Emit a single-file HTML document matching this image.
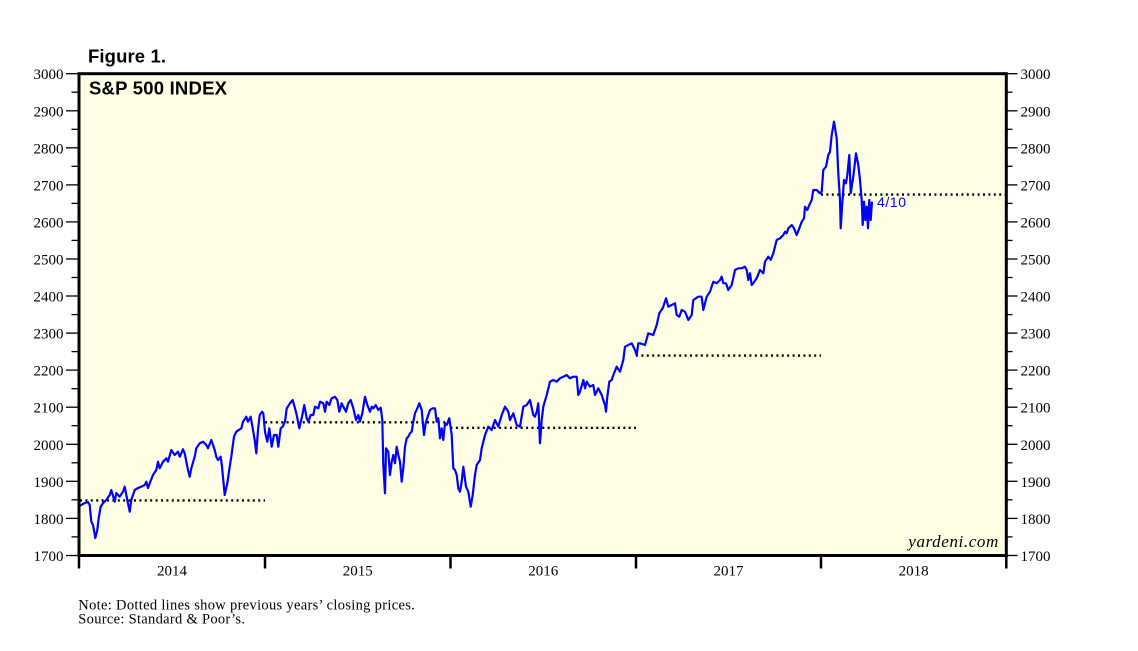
<!DOCTYPE html>
<html>
<head>
<meta charset="utf-8">
<style>
html,body{margin:0;padding:0;background:#fff;}
svg{display:block;}
</style>
</head>
<body>
<svg width="1138" height="651" viewBox="0 0 1138 651" xmlns="http://www.w3.org/2000/svg">
<rect x="0" y="0" width="1138" height="651" fill="#ffffff"/>
<rect x="79" y="73.7" width="927.3" height="481.8" fill="#FFFFE6"/>

<!-- dotted previous-year closes -->
<g stroke="#000" stroke-width="2.4" stroke-dasharray="2 3.4" fill="none">
<line x1="80" y1="500.4" x2="265" y2="500.4"/>
<line x1="265" y1="422.3" x2="450.5" y2="422.3"/>
<line x1="450.5" y1="427.8" x2="636" y2="427.8"/>
<line x1="636" y1="355.6" x2="821" y2="355.6"/>
<line x1="821" y1="194.6" x2="1005" y2="194.6"/>
</g>

<polyline fill="none" stroke="#0000FF" stroke-width="2.2" stroke-linejoin="round" points="
78,506.7 81.3,505 84.7,503 88,502 89.7,505 91.3,521.7 93,525 95.3,538 97.3,530 98.7,518 100.7,506.7 103,503 106.3,500 109.7,495 111.3,490 114.7,501.7 116.3,493 119.7,496.7 123,491.7 124.7,486.7 127.3,500 129.7,511.7 131.3,500 134.7,490 138,488 141.3,486.7 144.7,485 146.3,481.7 148,488 149.7,483.3 153,475 156.3,470 158,461.7 159.7,468.3 163,461.7 166.3,458.3 168,461.7 171.3,450 174.7,455 178,451.7 179.7,456.7 183,449.3 184.7,453.3 188,470 189.7,476.7 191.3,468.3 194.7,456.7 196.3,448.3 199.7,443.3 203,441.7 206.3,445 208,448.3 211.3,440 214.7,450 216.3,456.7 218,460 220.7,456.7 222,466.7 224.7,495 227.3,483.3 229.7,466.7 231.3,456.7 234,436.7 236.3,431.7 241.3,428.3 243,421.7 246.3,416.7 248,421.7 250.7,416.7 253,430 254.7,440 256.3,453.3 258,430 259.7,415
262,411.7 263.3,413.3 265,431.7 267.3,441.7 269.3,428.3 271.7,446.7 274,435 276.7,435 278.3,446.7 280.7,428.3 282.7,426.7 285,421.7 286.7,408.3 290,403.3 292.7,400 295,408.3 296.7,415 299.3,428.3 301.7,418.3 304.3,405 306.7,418.3 308.3,421.7 310.7,415 313.3,415 315,406.7 318.3,408.3 320,401.7 323.3,403.3 325,411.7 326.7,401.7 329.3,405 331.7,398.3 335,396.7 337.3,400 339.3,411.7 341.7,403.3 343.3,406.7 346,411.7 348.3,403.3 350.7,400 353.3,408.3 356,420 358.3,415 360,421.7 362.3,413.3 365,396.7 367.3,405 370,411.7 371.7,406.7 373.3,408.3 375.7,405 378.3,410 380.7,407.7 382.3,420 383.3,465 385,493.3 386,448.3 388.3,451.7 390,475 391.7,461.7 393.3,455 395,463.3 396.7,446.7 398.3,455 400,461.7 401.7,481.7 403.3,468.3 405,446.7 406.7,438.3 408.3,436.7 410,433.3 411.7,431.7 413.3,421.7 415,413.3 417.3,408.3 419.3,403.3 421.7,410 424,435 425.7,423.3 427.7,416.7 430,410 432.7,408.3 435,408.3 436.7,421.7 438.3,418.3 440,438.3 441.7,428.3 443.3,440 445,423.3 446.7,425 449.3,418.3 451.7,435 453.3,468.3 455,470 456.7,475 458.3,488.3 460,491.7 461.7,481.7 463.3,466.7 466,486.7 468.3,491.7 470.7,506.7 472.7,495 475,475 476.7,465 480,460
481.7,448.3 485,435 488.3,426.7 491.7,430 495,420 498.3,426.7 501.7,415 505,406.7 508.3,411.7 510,420 513.3,413.3 516.7,425 520,426.7 523.3,406.7 526.7,405 530,400 533.3,415 535,416.7 536.7,411.7 538.3,403.3 540,443.3 541.7,420 543.3,406.7 546.7,395 550,381.7 553.3,380 556.7,381.7 560,378.3 563.3,376.7 566.7,375 570,378.3 573.3,376.7 576.7,376.7 578.3,395 580,391.7 583.3,380 585,388.3 586.7,381.7 590,386.7 593.3,385 595,395 598.3,388.3 601.7,395 603.3,400 605,405 606,411.7 607.3,396.7 609.3,381.7 611.7,380 613.3,375 616.7,366.7 620,371.7 623.3,360 625,346.7 628.3,345 631.7,343.3 635,350 636.7,355 638.3,343.3
640,343.3 645,345 648.3,333.3 653.3,335 656.7,325 659.3,313.3 662.7,308.3 666,298.3 668.3,306.7 671.7,305 675,303.3 676.7,315 679.3,316.7 681.7,310 685,311.7 688.3,320 691.7,315 693.3,300 698.3,296.7 701.7,296.7 703.3,310 706.7,296.7 710,291.7 713.3,281.7 716.7,283.3 720,280 721.7,276.7 723.3,283.3 726,283.3 728.3,290 731.7,285 735,270 738.3,268.3 741.7,268.3 745,266.7 746.7,270 748.3,280 750,273.3 751.7,285 753.3,283.3 756.7,278.3 760,270 763.3,273.3 765,261.7 768.3,256.7 770.7,260 773.3,253.3 776.7,240 780,238.3 783.3,235 785,231.7 786.7,233.3 788.3,228.3 791.7,225 794,228.3 796.7,235 799.3,228.3 801.7,221.7 804,218.3 805,206.7 807.3,210 809.3,205 811.7,200 813.3,190 816.7,190 820,193.3 821.7,191.7 823.3,170 826,166.7 828.3,155 830,151.7 831.7,135 834,121.7 836.7,138.3 838.3,173.3 840,200 840.7,228.3 842.3,203.3 844,180 846,183.3 847.3,175 849.3,155 850.7,193.3 853.3,176.7 856,153.3 858.3,165 860,180 861.7,200 862.7,225 864,201.7 865.3,220 866.7,206.7 868,228.3 869.3,200 870.7,220 872,201.7"/>

<text x="877" y="207" font-family="Liberation Sans, sans-serif" font-size="14" fill="#0000FF" textLength="29">4/10</text>

<!-- frame -->
<rect x="79" y="73.7" width="927.3" height="481.8" fill="none" stroke="#000" stroke-width="3"/>

<!-- y ticks -->
<g stroke="#000" stroke-width="1.3">
<line x1="66" y1="73.7" x2="79" y2="73.7"/><line x1="71.5" y1="92.2" x2="79" y2="92.2"/>
<line x1="66" y1="110.8" x2="79" y2="110.8"/><line x1="71.5" y1="129.3" x2="79" y2="129.3"/>
<line x1="66" y1="147.8" x2="79" y2="147.8"/><line x1="71.5" y1="166.3" x2="79" y2="166.3"/>
<line x1="66" y1="184.9" x2="79" y2="184.9"/><line x1="71.5" y1="203.4" x2="79" y2="203.4"/>
<line x1="66" y1="221.9" x2="79" y2="221.9"/><line x1="71.5" y1="240.4" x2="79" y2="240.4"/>
<line x1="66" y1="259.0" x2="79" y2="259.0"/><line x1="71.5" y1="277.5" x2="79" y2="277.5"/>
<line x1="66" y1="296.0" x2="79" y2="296.0"/><line x1="71.5" y1="314.6" x2="79" y2="314.6"/>
<line x1="66" y1="333.1" x2="79" y2="333.1"/><line x1="71.5" y1="351.6" x2="79" y2="351.6"/>
<line x1="66" y1="370.1" x2="79" y2="370.1"/><line x1="71.5" y1="388.7" x2="79" y2="388.7"/>
<line x1="66" y1="407.2" x2="79" y2="407.2"/><line x1="71.5" y1="425.7" x2="79" y2="425.7"/>
<line x1="66" y1="444.3" x2="79" y2="444.3"/><line x1="71.5" y1="462.8" x2="79" y2="462.8"/>
<line x1="66" y1="481.3" x2="79" y2="481.3"/><line x1="71.5" y1="499.8" x2="79" y2="499.8"/>
<line x1="66" y1="518.4" x2="79" y2="518.4"/><line x1="71.5" y1="536.9" x2="79" y2="536.9"/>
<line x1="66" y1="555.5" x2="79" y2="555.5"/>

<line x1="1006" y1="73.7" x2="1017.5" y2="73.7"/><line x1="1006" y1="92.2" x2="1012.5" y2="92.2"/>
<line x1="1006" y1="110.8" x2="1017.5" y2="110.8"/><line x1="1006" y1="129.3" x2="1012.5" y2="129.3"/>
<line x1="1006" y1="147.8" x2="1017.5" y2="147.8"/><line x1="1006" y1="166.3" x2="1012.5" y2="166.3"/>
<line x1="1006" y1="184.9" x2="1017.5" y2="184.9"/><line x1="1006" y1="203.4" x2="1012.5" y2="203.4"/>
<line x1="1006" y1="221.9" x2="1017.5" y2="221.9"/><line x1="1006" y1="240.4" x2="1012.5" y2="240.4"/>
<line x1="1006" y1="259.0" x2="1017.5" y2="259.0"/><line x1="1006" y1="277.5" x2="1012.5" y2="277.5"/>
<line x1="1006" y1="296.0" x2="1017.5" y2="296.0"/><line x1="1006" y1="314.6" x2="1012.5" y2="314.6"/>
<line x1="1006" y1="333.1" x2="1017.5" y2="333.1"/><line x1="1006" y1="351.6" x2="1012.5" y2="351.6"/>
<line x1="1006" y1="370.1" x2="1017.5" y2="370.1"/><line x1="1006" y1="388.7" x2="1012.5" y2="388.7"/>
<line x1="1006" y1="407.2" x2="1017.5" y2="407.2"/><line x1="1006" y1="425.7" x2="1012.5" y2="425.7"/>
<line x1="1006" y1="444.3" x2="1017.5" y2="444.3"/><line x1="1006" y1="462.8" x2="1012.5" y2="462.8"/>
<line x1="1006" y1="481.3" x2="1017.5" y2="481.3"/><line x1="1006" y1="499.8" x2="1012.5" y2="499.8"/>
<line x1="1006" y1="518.4" x2="1017.5" y2="518.4"/><line x1="1006" y1="536.9" x2="1012.5" y2="536.9"/>
<line x1="1006" y1="555.5" x2="1017.5" y2="555.5"/>
</g>

<!-- x year ticks -->
<g stroke="#000" stroke-width="2.5">
<line x1="79" y1="555" x2="79" y2="568.5"/>
<line x1="265" y1="555" x2="265" y2="568.5"/>
<line x1="450.5" y1="555" x2="450.5" y2="568.5"/>
<line x1="636" y1="555" x2="636" y2="568.5"/>
<line x1="821" y1="555" x2="821" y2="568.5"/>
<line x1="1006.3" y1="555" x2="1006.3" y2="568.5"/>
</g>

<g font-family="Liberation Serif, serif" font-size="15" fill="#000">
<g text-anchor="end">
<text x="63.5" y="79.2">3000</text>
<text x="63.5" y="116.3">2900</text>
<text x="63.5" y="153.3">2800</text>
<text x="63.5" y="190.4">2700</text>
<text x="63.5" y="227.4">2600</text>
<text x="63.5" y="264.5">2500</text>
<text x="63.5" y="301.5">2400</text>
<text x="63.5" y="338.6">2300</text>
<text x="63.5" y="375.6">2200</text>
<text x="63.5" y="412.7">2100</text>
<text x="63.5" y="449.8">2000</text>
<text x="63.5" y="486.8">1900</text>
<text x="63.5" y="523.9">1800</text>
<text x="63.5" y="561.0">1700</text>
</g>
<g text-anchor="start">
<text x="1020.5" y="79.2">3000</text>
<text x="1020.5" y="116.3">2900</text>
<text x="1020.5" y="153.3">2800</text>
<text x="1020.5" y="190.4">2700</text>
<text x="1020.5" y="227.4">2600</text>
<text x="1020.5" y="264.5">2500</text>
<text x="1020.5" y="301.5">2400</text>
<text x="1020.5" y="338.6">2300</text>
<text x="1020.5" y="375.6">2200</text>
<text x="1020.5" y="412.7">2100</text>
<text x="1020.5" y="449.8">2000</text>
<text x="1020.5" y="486.8">1900</text>
<text x="1020.5" y="523.9">1800</text>
<text x="1020.5" y="561.0">1700</text>
</g>
<g text-anchor="middle">
<text x="172" y="575.5">2014</text>
<text x="357.7" y="575.5">2015</text>
<text x="543.2" y="575.5">2016</text>
<text x="728.5" y="575.5">2017</text>
<text x="913.6" y="575.5">2018</text>
</g>
</g>

<text x="88" y="62.3" font-family="Liberation Sans, sans-serif" font-weight="bold" font-size="18.5" fill="#000" textLength="78">Figure 1.</text>
<text x="89" y="94.3" font-family="Liberation Sans, sans-serif" font-weight="bold" font-size="18.5" fill="#000" textLength="138">S&amp;P 500 INDEX</text>
<text x="908.3" y="547" font-family="Liberation Serif, serif" font-style="italic" font-size="17" fill="#000" textLength="90">yardeni.com</text>

<text x="78.3" y="609.5" font-family="Liberation Serif, serif" font-size="14.5" fill="#000" textLength="336.5">Note: Dotted lines show previous years’ closing prices.</text>
<text x="78.3" y="623.5" font-family="Liberation Serif, serif" font-size="14.5" fill="#000" textLength="166.7">Source: Standard &amp; Poor’s.</text>
</svg>
</body>
</html>
